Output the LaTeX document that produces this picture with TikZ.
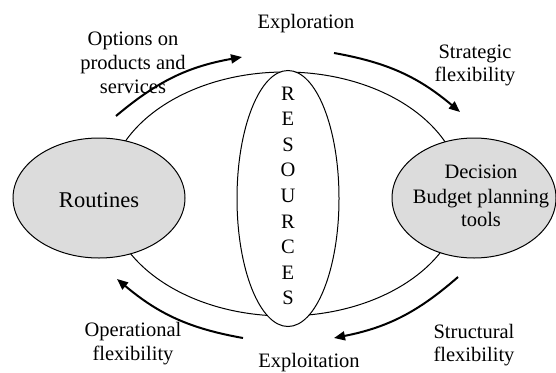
\documentclass[tikz,border=0pt]{standalone}
\usepackage{fontspec}
\setmainfont{Liberation Serif}
\usetikzlibrary{arrows.meta,shapes.geometric}
\definecolor{shade}{RGB}{220,220,220}
\tikzset{
  thinline/.style={line width=1},
  oval/.style={ellipse,draw,line width=1,inner sep=0pt},
  lbl/.style={anchor=base,inner sep=0pt,font=\fontsize{20.5}{24}\selectfont},
  flow/.style={line width=2,-{Triangle[length=11pt,width=9pt]}},
}
\begin{document}
\begin{tikzpicture}[x=1pt,y=-1pt]
\useasboundingbox (0,0) rectangle (556,372);
% big ellipse
\node[oval,minimum width=354,minimum height=244] (big) at (285,194) {};
% resources ellipse
\node[oval,fill=white,minimum width=102,minimum height=256] (res) at (288,198.5) {};
% side ellipses
\node[oval,fill=shade,minimum width=172,minimum height=120] (rout) at (99,198) {};
\node[oval,fill=shade,minimum width=164,minimum height=120] (dec) at (474,198) {};
% texts in ellipses
\node[anchor=base,inner sep=0pt,font=\fontsize{22.5}{26}\selectfont] (routt) at (99,207) {Routines};
\node[lbl] (dec1) at (481,178) {Decision};
\node[lbl] (dec2) at (481,203) {Budget planning};
\node[lbl] (dec3) at (481,226) {tools};
% RESOURCES letters
\foreach \c [count=\i from 0] in {R,E,S,O,U,R,C,E,S}{
  \node[lbl] (r\i) at (288,{100+25.6*\i}) {\c};
}
% outer labels
\node[lbl] (explor) at (306,28) {Exploration};
\node[lbl] (exploi) at (309,367) {Exploitation};
\node[lbl] (opt1) at (133,45) {Options on};
\node[lbl] (opt2) at (133,69) {products and};
\node[lbl] (opt3) at (133,93) {services};
\node[lbl] (str1) at (475,58) {Strategic};
\node[lbl] (str2) at (475,81) {flexibility};
\node[lbl] (stc1) at (474,338) {Structural};
\node[lbl] (stc2) at (474,361) {flexibility};
\node[lbl] (op1) at (133,336) {Operational};
\node[lbl] (op2) at (133,360) {flexibility};
% arrows
\coordinate (a1s) at (116,116); \coordinate (a1e) at (242,57);
\coordinate (a2s) at (334,53);  \coordinate (a2e) at (460,112);
\coordinate (a3s) at (458,277); \coordinate (a3e) at (334,338);
\coordinate (a4s) at (243,338); \coordinate (a4e) at (117,279);
\draw[flow] (a1s) to[bend left=15] (a1e);
\draw[flow] (a2s) to[bend left=15] (a2e);
\draw[flow] (a3s) to[bend left=15] (a3e);
\draw[flow] (a4s) to[bend left=15] (a4e);
\end{tikzpicture}
\end{document}
